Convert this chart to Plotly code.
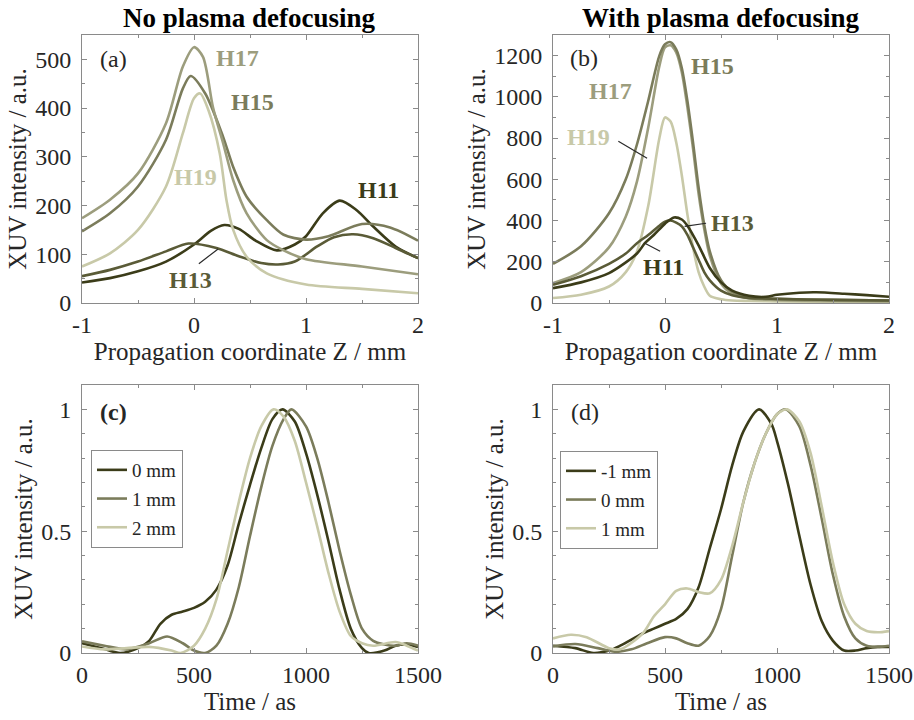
import plotly.graph_objects as go

# ---------------- data: panel (a) no plasma defocusing ----------------
z_a_h11 = [-1, -0.75, -0.5, -0.25, 0, 0.15, 0.27, 0.4, 0.55, 0.74, 0.9, 1.0, 1.15, 1.3, 1.45, 1.6, 1.8, 2]
h11_a = [42, 51, 65, 85, 120, 148, 160, 152, 128, 108, 120, 137, 184, 210, 191, 157, 116, 92]
z_a_h13 = [-1, -0.75, -0.5, -0.25, -0.05, 0.2, 0.4, 0.6, 0.75, 0.9, 1.1, 1.25, 1.42, 1.6, 1.8, 2]
h13_a = [55, 68, 85, 106, 122, 113, 96, 82, 79, 85, 116, 135, 141, 133, 113, 92]
z_a_h15 = [-1, -0.75, -0.5, -0.25, -0.1, -0.03, 0.1, 0.26, 0.35, 0.47, 0.65, 0.8, 1.0, 1.2, 1.5, 1.75, 2]
h15_a = [147, 184, 239, 335, 440, 466, 430, 341, 279, 218, 170, 140, 130, 137, 162, 155, 128]
z_a_h17 = [-1, -0.75, -0.5, -0.25, -0.1, 0, 0.08, 0.17, 0.26, 0.35, 0.47, 0.65, 0.8, 1.0, 1.5, 2]
h17_a = [174, 212, 266, 369, 485, 525, 505, 401, 328, 252, 184, 129, 108, 90, 75, 59]
z_a_h19 = [-1, -0.75, -0.5, -0.25, -0.1, 0, 0.055, 0.13, 0.23, 0.29, 0.35, 0.47, 0.65, 1.0, 1.5, 2]
h19_a = [75, 102, 150, 239, 348, 420, 430, 395, 307, 211, 150, 95, 61, 38, 29, 20]

# ---------------- data: panel (b) with plasma defocusing ----------------
z_b = [-1, -0.75, -0.5, -0.35, -0.25, -0.15, -0.05, 0, 0.05, 0.1, 0.15, 0.2, 0.25, 0.3, 0.35, 0.4, 0.5, 0.6, 0.75, 1.0, 1.5, 2]
h15_b = [190, 275, 435, 600, 770, 980, 1200, 1255, 1265, 1230, 1140, 980, 780, 560, 380, 250, 110, 55, 30, 20, 15, 12]
h17_b = [97, 150, 270, 420, 590, 850, 1150, 1240, 1250, 1215, 1120, 950, 750, 530, 360, 230, 95, 45, 22, 15, 10, 8]
h19_b = [24, 40, 80, 150, 250, 470, 800, 900, 880, 780, 620, 430, 270, 150, 80, 35, 18, 12, 10, 8, 5, 5]
h13_b = [88, 130, 190, 240, 290, 330, 375, 395, 400, 390, 372, 330, 270, 210, 150, 110, 60, 38, 25, 20, 15, 12]
z_b_h11 = [-1, -0.75, -0.5, -0.25, -0.18, -0.1, 0, 0.08, 0.15, 0.2, 0.3, 0.4, 0.5, 0.6, 0.75, 0.9, 1.0, 1.2, 1.35, 1.6, 1.8, 2]
h11_b = [72, 100, 145, 240, 290, 330, 385, 415, 405, 375, 280, 170, 100, 60, 35, 30, 40, 50, 52, 45, 38, 30]

# ---------------- data: panel (c) pulses, no defocusing ----------------
t_c = [0, 100, 170, 250, 300, 350, 400, 450, 500, 550, 600, 650, 700, 750, 800, 850, 895, 950, 1000, 1050, 1100, 1150, 1200, 1250, 1280, 1350, 1400, 1450, 1500]
p0_c = [0.04, 0.016, 0.0, 0.02, 0.05, 0.12, 0.157, 0.17, 0.185, 0.21, 0.26, 0.36, 0.53, 0.69, 0.84, 0.96, 1.0, 0.95, 0.82, 0.65, 0.46, 0.26, 0.1, 0.02, 0.0, 0.01, 0.03, 0.035, 0.025]
t_c1 = [0, 100, 200, 300, 380, 450, 500, 550, 600, 650, 700, 750, 800, 850, 900, 935, 1000, 1050, 1100, 1150, 1200, 1250, 1300, 1350, 1400, 1450, 1500]
p1_c = [0.048, 0.03, 0.015, 0.04, 0.068, 0.04, 0.01, 0.0, 0.03, 0.12, 0.27, 0.48, 0.68, 0.85, 0.96, 1.0, 0.93, 0.8, 0.62, 0.42, 0.24, 0.1, 0.05, 0.035, 0.03, 0.04, 0.03]
t_c2 = [0, 100, 200, 300, 400, 440, 500, 550, 600, 650, 700, 750, 800, 855, 900, 950, 1000, 1050, 1100, 1150, 1200, 1250, 1300, 1400, 1450, 1500]
p2_c = [0.027, 0.015, 0.02, 0.025, 0.01, 0.0, 0.03, 0.1, 0.22, 0.42, 0.62, 0.8, 0.93, 1.0, 0.97, 0.87, 0.7, 0.52, 0.33, 0.17, 0.07, 0.04, 0.03, 0.045, 0.03, 0.01]

# ---------------- data: panel (d) pulses, with defocusing ----------------
t_d0 = [0, 100, 180, 250, 300, 400, 450, 500, 550, 600, 650, 700, 750, 800, 850, 920, 975, 1000, 1050, 1100, 1150, 1200, 1250, 1300, 1350, 1400, 1450, 1500]
pm1_d = [0.03, 0.02, 0.0, 0.01, 0.03, 0.08, 0.1, 0.12, 0.14, 0.18, 0.27, 0.43, 0.59, 0.77, 0.91, 1.0, 0.94, 0.87, 0.69, 0.48, 0.28, 0.13, 0.05, 0.01, 0.01, 0.02, 0.025, 0.025]
t_d1 = [0, 100, 200, 280, 350, 420, 500, 550, 600, 650, 700, 750, 800, 850, 900, 950, 1000, 1040, 1100, 1150, 1200, 1250, 1300, 1350, 1400, 1450, 1500]
p0_d = [0.027, 0.037, 0.02, 0.005, 0.015, 0.04, 0.065, 0.06, 0.04, 0.03, 0.07, 0.18, 0.4, 0.62, 0.78, 0.9, 0.98, 1.0, 0.93, 0.77, 0.55, 0.32, 0.15, 0.06, 0.03, 0.025, 0.03]
t_d2 = [0, 80, 150, 250, 300, 400, 450, 500, 550, 600, 650, 700, 750, 800, 850, 900, 950, 1000, 1045, 1100, 1150, 1200, 1250, 1300, 1350, 1400, 1450, 1500]
p1_d = [0.06, 0.075, 0.065, 0.02, 0.015, 0.08, 0.15, 0.2, 0.255, 0.265, 0.25, 0.245, 0.3, 0.44, 0.62, 0.78, 0.9, 0.98, 1.0, 0.95, 0.82, 0.6, 0.37, 0.2, 0.12, 0.09, 0.085, 0.09]

# ---------------- tick labels ----------------
z_ticks = [-1, 0, 1, 2]
z_ticktext = ["-1", "0", "1", "2"]
t_ticks = [0, 500, 1000, 1500]
t_ticktext = ["0", "500", "1000", "1500"]
ya_ticks = [0, 100, 200, 300, 400, 500]
yb_ticks = [0, 200, 400, 600, 800, 1000, 1200]
yc_ticks = [0, 0.5, 1]
yc_ticktext = ["0", "0.5", "1"]

# ---------------- style ----------------
FONT = "Liberation Serif"
C11, C13, C15, C17, C19 = "#3b3c19", "#5a5b37", "#7b7c5b", "#9c9d7d", "#c8c9a8"
TXT = "#262626"
AX = "#8a8a8a"
LW = 2.6

fig = go.Figure()

def line(x, y, color, xa, ya, name=None, legend=None, group=None):
    fig.add_trace(go.Scatter(
        x=x, y=y, mode="lines", line=dict(color=color, width=LW, shape="spline", smoothing=0.8),
        xaxis=xa, yaxis=ya, name=name or "", showlegend=legend is not None,
        legend=legend if legend else "legend", legendgroup=group, hoverinfo="skip"))

# panel a
line(z_a_h11, h11_a, C11, "x", "y")
line(z_a_h13, h13_a, C13, "x", "y")
line(z_a_h15, h15_a, C15, "x", "y")
line(z_a_h17, h17_a, C17, "x", "y")
line(z_a_h19, h19_a, C19, "x", "y")
# panel b
line(z_b, h19_b, C19, "x2", "y2")
line(z_b, h17_b, C17, "x2", "y2")
line(z_b, h15_b, C15, "x2", "y2")
line(z_b, h13_b, C13, "x2", "y2")
line(z_b_h11, h11_b, C11, "x2", "y2")
# panel c
line(t_c, p0_c, C11, "x3", "y3", "0 mm", "legend", "c0")
line(t_c1, p1_c, C15, "x3", "y3", "1 mm", "legend", "c1")
line(t_c2, p2_c, C19, "x3", "y3", "2 mm", "legend", "c2")
# panel d
line(t_d0, pm1_d, C11, "x4", "y4", "-1 mm", "legend2", "d0")
line(t_d1, p0_d, C15, "x4", "y4", "0 mm", "legend2", "d1")
line(t_d2, p1_d, C19, "x4", "y4", "1 mm", "legend2", "d2")

W, H = 914, 720
def dx(a, b):
    return [a / W, b / W]
def dy(top, bot):
    return [1 - bot / H, 1 - top / H]

TICKSZ = 24
TITLESZ = 25

def common(dom, rng, vals, text, minor, title, anchor):
    return dict(domain=dom, range=rng, tickmode="array", tickvals=vals, ticktext=text, anchor=anchor,
                showgrid=False, zeroline=False, showline=True, linecolor=AX, linewidth=1,
                mirror="allticks", ticks="inside", ticklen=5, tickcolor=AX,
                minor=dict(dtick=minor, tick0=rng[0], ticks="inside", ticklen=3, tickcolor=AX, showgrid=False),
                tickfont=dict(family=FONT, size=TICKSZ, color=TXT),
                title=dict(text=title, font=dict(family=FONT, size=TITLESZ, color=TXT), standoff=3),
                automargin=False)

YT = "XUV intensity / a.u."
top_row = dy(35, 303)
bot_row = dy(385, 653)
left_col = dx(82, 418)
right_col = dx(553, 889)

ya = common(top_row, [0, 550], ya_ticks, [str(v) for v in ya_ticks], 50, YT, "x")
yb = common(top_row, [0, 1300], yb_ticks, [str(v) for v in yb_ticks], 100, YT, "x2")
yc = common(bot_row, [0, 1.1], yc_ticks, yc_ticktext, 0.1, YT, "x3")
yd = common(bot_row, [0, 1.1], yc_ticks, yc_ticktext, 0.1, YT, "x4")
for yy in (ya, yb, yc, yd):
    yy["ticklabelstandoff"] = 5
    yy["title"]["standoff"] = 1

fig.update_layout(
    width=W, height=H, margin=dict(l=0, r=0, t=0, b=0),
    paper_bgcolor="white", plot_bgcolor="white",
    font=dict(family=FONT, color=TXT),
    xaxis=common(left_col, [-1, 2], z_ticks, z_ticktext, 0.5, "Propagation coordinate Z / mm", "y"),
    yaxis=ya,
    xaxis2=common(right_col, [-1, 2], z_ticks, z_ticktext, 0.5, "Propagation coordinate Z / mm", "y2"),
    yaxis2=yb,
    xaxis3=common(left_col, [0, 1500], t_ticks, t_ticktext, 250, "Time / as", "y3"),
    yaxis3=yc,
    xaxis4=common(right_col, [0, 1500], t_ticks, t_ticktext, 250, "Time / as", "y4"),
    yaxis4=yd,
    legend=dict(x=91 / W, y=1 - 450 / H, xanchor="left", yanchor="top",
                bgcolor="white", bordercolor=AX, borderwidth=1, tracegroupgap=1,
                font=dict(family=FONT, size=19, color=TXT), itemwidth=30),
    legend2=dict(x=560 / W, y=1 - 451 / H, xanchor="left", yanchor="top",
                 bgcolor="white", bordercolor=AX, borderwidth=1, tracegroupgap=1,
                 font=dict(family=FONT, size=19, color=TXT), itemwidth=30),
    showlegend=True,
)

ann = []
def txt(x, y, s, xr, yr, color=TXT, size=24, bold=False):
    ann.append(dict(x=x, y=y, xref=xr, yref=yr, text=f"<b>{s}</b>" if bold else s,
                    xanchor="center", yanchor="middle",
                    showarrow=False, font=dict(family=FONT, size=size, color=color)))

def ptr(x0, y0, x1, y1, xr, yr):
    ann.append(dict(x=x1, y=y1, ax=x0, ay=y0, xref=xr, yref=yr, axref=xr, ayref=yr,
                    text="", showarrow=True, arrowhead=0, arrowwidth=1.2, arrowcolor="#2a2a2a",
                    standoff=0, startstandoff=0))

# titles
ann.append(dict(x=250 / W, y=1 - 18 / H, xref="paper", yref="paper", text="<b>No plasma defocusing</b>",
                xanchor="center", yanchor="middle",
                showarrow=False, font=dict(family=FONT, size=27, color="black")))
ann.append(dict(x=721 / W, y=1 - 18 / H, xref="paper", yref="paper", text="<b>With plasma defocusing</b>",
                xanchor="center", yanchor="middle",
                showarrow=False, font=dict(family=FONT, size=27, color="black")))

# panel labels
txt(-0.72, 500, "(a)", "x", "y", size=24)
txt(-0.72, 1190, "(b)", "x2", "y2", size=24)
txt(139, 0.988, "(c)", "x3", "y3", size=24, bold=True)
txt(143, 0.988, "(d)", "x4", "y4", size=24)

# harmonic labels (a)
txt(0.385, 502, "H17", "x", "y", C17, bold=True)
txt(0.52, 412, "H15", "x", "y", C15, bold=True)
txt(0.01, 258, "H19", "x", "y", C19, bold=True)
txt(1.65, 231, "H11", "x", "y", C11, bold=True)
txt(-0.035, 47, "H13", "x", "y", C13, bold=True)
ptr(0.03, 78, 0.215, 111, "x", "y")

# harmonic labels (b)
txt(0.42, 1152, "H15", "x2", "y2", C15, bold=True)
txt(-0.49, 1030, "H17", "x2", "y2", C17, bold=True)
txt(-0.68, 803, "H19", "x2", "y2", C19, bold=True)
txt(0.6, 387, "H13", "x2", "y2", C13, bold=True)
txt(-0.01, 174, "H11", "x2", "y2", C11, bold=True)
ptr(-0.43, 789, -0.16, 702, "x2", "y2")
ptr(0.38, 388, 0.175, 372, "x2", "y2")
ptr(-0.03, 247, -0.18, 290, "x2", "y2")

fig.update_layout(annotations=ann)
fig.write_html("out.html")
